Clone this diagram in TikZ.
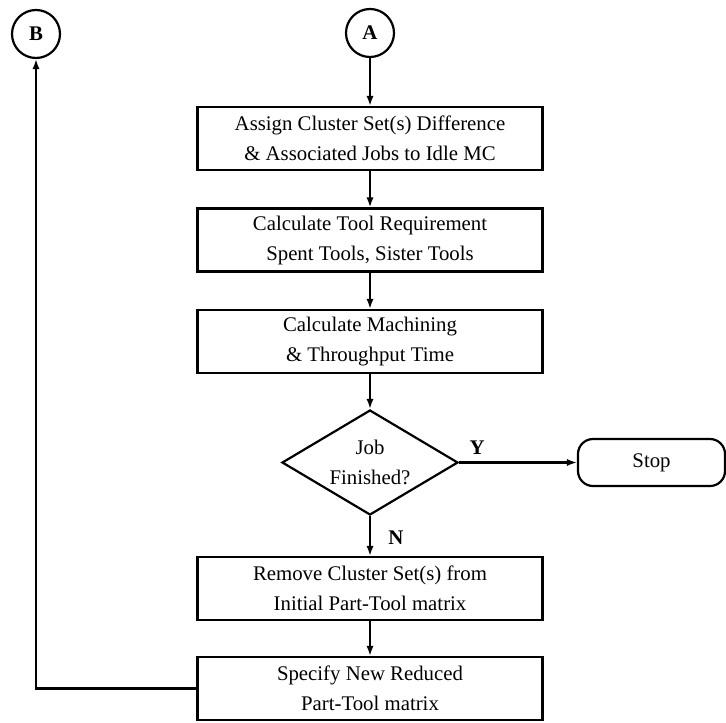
\documentclass[tikz,border=0pt]{standalone}
\usepackage{fontspec}
\setmainfont{Liberation Serif}
\usetikzlibrary{shapes.geometric,arrows.meta}
\begin{document}
\begin{tikzpicture}[x=0.5pt,y=-0.5pt,
  every node/.style={font=\fontsize{10.4}{15}\selectfont, align=center},
  process/.style={draw, line width=1.1pt, minimum width=172.5pt, minimum height=31.5pt, inner sep=0pt},
  decision/.style={draw, diamond, line width=1.1pt, minimum width=88pt, minimum height=52.5pt, inner sep=0pt},
  terminal/.style={draw, line width=1.1pt, rounded corners=7.5pt, minimum width=73.5pt, minimum height=23.5pt, inner sep=0pt},
  connector/.style={draw, circle, line width=1.1pt, minimum size=24pt, inner sep=0pt, font=\fontsize{10.4}{12}\selectfont\bfseries},
  branch/.style={font=\fontsize{10.4}{12}\selectfont\bfseries},
  flow/.style={line width=1.1pt, -{Latex[length=5pt,width=3.6pt]}}]
  \useasboundingbox (0,0) rectangle (726,722);

  % off-page connectors
  \node[connector] (A) at (370,33) {A};
  \node[connector] (B) at (36,34) {B};

  % process steps
  \node[process] (b1) at (370,138.5) {Assign Cluster Set(s) Difference\\ \& Associated Jobs to Idle MC};
  \node[process] (b2) at (370,240) {Calculate Tool Requirement\\ Spent Tools, Sister Tools};
  \node[process] (b3) at (370,341.5) {Calculate Machining\\ \& Throughput Time};
  \node[decision] (d) at (370,462.5) {};
  \node (dtext) at (370,462.5) {Job\\ Finished?};
  \node[terminal] (stop) at (651.5,462.5) {Stop};
  \node[process] (b4) at (370,588.5) {Remove Cluster Set(s) from\\ Initial Part-Tool matrix};
  \node[process] (b5) at (370,688.5) {Specify New Reduced\\ Part-Tool matrix};

  % branch labels
  \node[branch] (ylab) at (477,448) {Y};
  \node[branch] (nlab) at (396,538) {N};

  % flow lines
  \draw[flow] (A.south) -- (b1.north);
  \draw[flow] (b1.south) -- (b2.north);
  \draw[flow] (b2.south) -- (b3.north);
  \draw[flow] (b3.south) -- (d.north);
  \draw[flow] (d.east) -- (stop.west);
  \draw[flow] (d.south) -- (b4.north);
  \draw[flow] (b4.south) -- (b5.north);
  \draw[flow] (b5.west) -| (B.south);
\end{tikzpicture}
\end{document}
